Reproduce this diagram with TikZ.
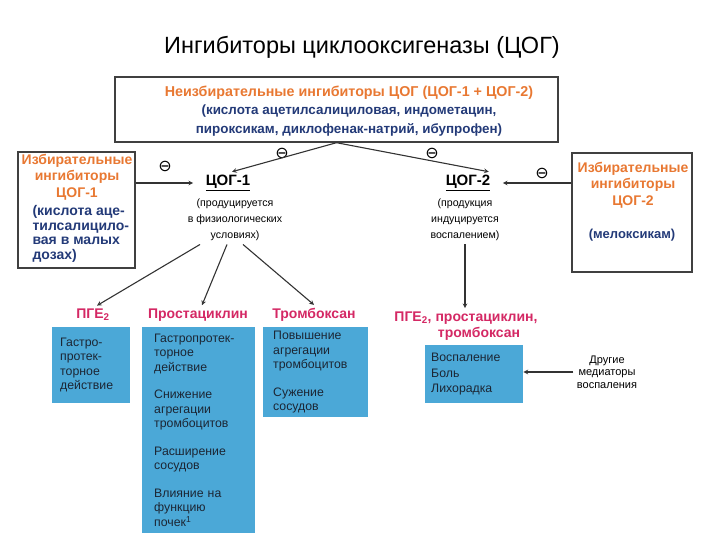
\documentclass[tikz,border=0pt]{standalone}
\usepackage{fontspec}
\setmainfont{Liberation Sans}
\newfontfamily\circfont{DejaVu Sans}
\definecolor{selorange}{RGB}{232,120,50}
\definecolor{drugblue}{RGB}{35,58,120}
\definecolor{prodred}{RGB}{212,40,100}
\definecolor{effectfill}{RGB}{75,168,215}
\definecolor{effecttext}{RGB}{28,38,52}

\begin{document}
\begin{tikzpicture}[x=1pt,y=-1pt,
                frame/.style={draw=black!75,line width=1.4pt},
                effect/.style={fill=effectfill,text=effecttext,anchor=north west,align=left,font=\fontsize{12.3}{14.5}\selectfont},
                product/.style={text=prodred,font=\bfseries\fontsize{14}{16}\selectfont},
                enzyme/.style={font=\bfseries\fontsize{15}{17}\selectfont},
                note/.style={align=center,font=\fontsize{10.6}{16}\selectfont},
                inhib/.style={font=\circfont\fontsize{16}{16}\selectfont,inner sep=0pt}]
                \useasboundingbox (0,0) rectangle (720,540);
                \node[font=\fontsize{23.5}{26}\selectfont] (title) at (362,47) {Ингибиторы циклооксигеназы (ЦОГ)};
                \node[frame,minimum width=443pt,minimum height=65pt] (nonsel) at (336.5,109.5) {};
                \node[align=center,font=\bfseries\fontsize{13.4}{18.5}\selectfont] (nonseltxt) at (349,111)
                        {\textcolor{selorange}{\fontsize{14.3}{18.5}\selectfont Неизбирательные ингибиторы ЦОГ (ЦОГ-1 + ЦОГ-2)}\\
                         \textcolor{drugblue}{(кислота ацетилсалициловая, индометацин,}\\
                         \textcolor{drugblue}{пироксикам, диклофенак-натрий, ибупрофен)}};
                \node[frame,minimum width=117pt,minimum height=116pt] (sel1) at (76.5,210) {};
                \node[align=center,text=selorange,font=\bfseries\fontsize{14}{16.5}\selectfont] (sel1name) at (77,177) {Избирательные\\ингибиторы\\ЦОГ-1};
                \node[anchor=north west,align=left,text=drugblue,font=\bfseries\fontsize{14}{14.5}\selectfont] (sel1drug) at (29,202) {(кислота аце-\\тилсалицило-\\вая в малых\\дозах)};
                \node[frame,minimum width=120pt,minimum height=119pt] (sel2) at (632,212.5) {};
                \node[align=center,text=selorange,font=\bfseries\fontsize{14}{16.5}\selectfont] (sel2name) at (633,185) {Избирательные\\ингибиторы\\ЦОГ-2};
                \node[text=drugblue,font=\bfseries\fontsize{13}{14.5}\selectfont] (sel2drug) at (632,235) {(мелоксикам)};
                \node[enzyme] (cog1) at (228,183) {\underline{ЦОГ-1}};
                \node[note] (cog1note) at (235,220) {(продуцируется\\в физиологических\\условиях)};
                \node[enzyme] (cog2) at (468,183) {\underline{ЦОГ-2}};
                \node[note] (cog2note) at (465,220) {(продукция\\индуцируется\\воспалением)};
                \node[inhib] (inh1) at (282,153) {⊖};
                \node[inhib] (inh2) at (432,153) {⊖};
                \node[inhib] (inh3) at (165,166) {⊖};
                \node[inhib] (inh4) at (542,173) {⊖};
                \node[product] (pge) at (93,315) {ПГЕ\textsubscript{2}};
                \node[product] (prost) at (198,315) {Простациклин};
                \node[product] (thromb) at (314,315) {Тромбоксан};
                \node[product] (mix1) at (466,318) {ПГЕ\textsubscript{2}, простациклин,};
                \node[product] (mix2) at (479,334) {тромбоксан};
                \node[effect,minimum height=76pt,text width=62pt,inner xsep=8pt] (pgebox) at (52,327) {Гастро-\\протек-\\торное\\действие};
                \node[effect,minimum height=206pt,text width=89pt,inner xsep=12pt] (prostbox) at (142,327)
                        {Гастропротек-\\торное\\действие\\[13pt]Снижение\\агрегации\\тромбоцитов\\[13pt]Расширение\\сосудов\\[13pt]Влияние на\\функцию\\почек\textsuperscript{1}};
                \node[effect,minimum height=90pt,text width=85pt,inner xsep=10pt] (thrombbox) at (263,327) {Повышение\\агрегации\\тромбоцитов\\[13pt]Сужение\\сосудов};
                \node[effect,minimum height=58pt,text width=86pt,inner xsep=6pt,font=\fontsize{12.3}{15.5}\selectfont] (inflbox) at (425,345) {Воспаление\\Боль\\Лихорадка};
                \node[note,font=\fontsize{11}{12.5}\selectfont] (others) at (607,372) {Другие\\медиаторы\\воспаления};
                \path[-stealth,line width=1.1pt,black!80]
                        (nonsel.south) edge ([xshift=4pt]cog1.north)
                        (nonsel.south) edge ([xshift=-5pt]cog2.north east)
                        (sel1.east |- cog1) edge ([xshift=-9pt]cog1.west)
                        (sel2.west |- cog2) edge ([xshift=9pt]cog2.east)
                        ([xshift=-35pt]cog1note.south) edge ([xshift=4pt]pge.north)
                        ([xshift=-8pt]cog1note.south) edge ([xshift=4pt]prost.north)
                        ([xshift=8pt]cog1note.south) edge (thromb.north)
                        (cog2note.south) edge (cog2note.south |- mix1.north)
                        (others.west) edge (others.west -| inflbox.east);
        \end{tikzpicture}
\end{document}
